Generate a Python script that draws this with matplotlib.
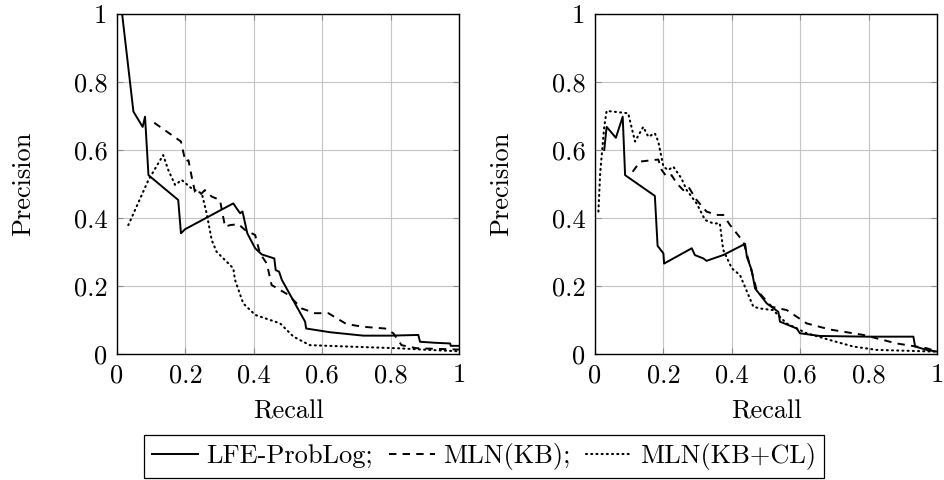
import matplotlib
matplotlib.use("Agg")
import matplotlib.pyplot as plt
from matplotlib.ticker import FixedLocator, FuncFormatter

plt.rcParams['font.family'] = 'serif'
plt.rcParams['font.serif'] = ['cmr10', 'DejaVu Serif']
plt.rcParams['mathtext.fontset'] = 'cm'
plt.rcParams['axes.unicode_minus'] = False
plt.rcParams['font.size'] = 19

# left panel
l_lfe_x = [0.01, 0.015, 0.048, 0.075, 0.082, 0.092, 0.179, 0.187, 0.199, 0.34, 0.35, 0.36, 0.367, 0.381,
           0.404, 0.423, 0.46, 0.464, 0.474, 0.482, 0.55, 0.553, 0.623, 0.72, 0.798, 0.881, 0.886, 0.93,
           0.974, 0.976, 1.0]
l_lfe_y = [1.0, 1.0, 0.713, 0.668, 0.698, 0.526, 0.453, 0.355, 0.367, 0.443, 0.428, 0.414, 0.419, 0.355,
           0.311, 0.293, 0.281, 0.247, 0.242, 0.218, 0.095, 0.075, 0.064, 0.054, 0.054, 0.056, 0.036, 0.033,
           0.031, 0.024, 0.024]
l_kb_x = [0.109, 0.187, 0.2, 0.209, 0.218, 0.228, 0.243, 0.257, 0.277, 0.301, 0.316, 0.33, 0.355, 0.374,
          0.404, 0.418, 0.438, 0.452, 0.501, 0.54, 0.579, 0.618, 0.671, 0.72, 0.784, 0.808, 0.832, 0.876, 1.0]
l_kb_y = [0.68, 0.625, 0.566, 0.57, 0.523, 0.477, 0.468, 0.482, 0.463, 0.453, 0.374, 0.379, 0.382, 0.365,
          0.35, 0.296, 0.266, 0.203, 0.174, 0.134, 0.12, 0.12, 0.088, 0.08, 0.075, 0.061, 0.026, 0.017, 0.013]
l_cl_x = [0.033, 0.092, 0.135, 0.15, 0.17, 0.189, 0.218, 0.248, 0.262, 0.277, 0.291, 0.316, 0.34, 0.345,
          0.369, 0.404, 0.477, 0.516, 0.564, 0.70, 0.818, 0.915, 1.0]
l_cl_y = [0.379, 0.512, 0.585, 0.541, 0.497, 0.512, 0.487, 0.472, 0.414, 0.335, 0.301, 0.276, 0.252, 0.218,
          0.149, 0.115, 0.09, 0.051, 0.026, 0.021, 0.017, 0.012, 0.008]

# right panel
r_lfe_x = [0.027, 0.034, 0.061, 0.081, 0.088, 0.175, 0.183, 0.2, 0.202, 0.283, 0.292, 0.317, 0.326, 0.375,
           0.439, 0.444, 0.458, 0.468, 0.502, 0.536, 0.541, 0.59, 0.599, 0.658, 0.794, 0.931, 0.936, 0.97, 1.0]
r_lfe_y = [0.6, 0.668, 0.636, 0.698, 0.526, 0.465, 0.318, 0.296, 0.266, 0.311, 0.291, 0.281, 0.274, 0.291,
           0.324, 0.286, 0.247, 0.193, 0.149, 0.124, 0.095, 0.075, 0.061, 0.053, 0.051, 0.051, 0.022, 0.012, 0.007]
r_kb_x = [0.11, 0.132, 0.185, 0.195, 0.21, 0.224, 0.239, 0.258, 0.273, 0.297, 0.326, 0.356, 0.375, 0.395,
          0.434, 0.473, 0.517, 0.561, 0.619, 0.687, 0.785, 0.882, 0.97, 1.0]
r_kb_y = [0.536, 0.566, 0.572, 0.541, 0.521, 0.526, 0.502, 0.482, 0.492, 0.453, 0.419, 0.409, 0.409, 0.379,
          0.33, 0.188, 0.139, 0.129, 0.09, 0.072, 0.056, 0.031, 0.017, 0.007]
r_cl_x = [0.01, 0.015, 0.027, 0.034, 0.097, 0.117, 0.141, 0.156, 0.175, 0.185, 0.2, 0.214, 0.229, 0.253,
          0.268, 0.297, 0.322, 0.346, 0.365, 0.375, 0.4, 0.424, 0.463, 0.482, 0.521, 0.56, 0.619, 0.687,
          0.755, 0.824, 1.0]
r_cl_y = [0.419, 0.531, 0.668, 0.715, 0.708, 0.625, 0.668, 0.639, 0.649, 0.625, 0.551, 0.541, 0.551, 0.516,
          0.482, 0.443, 0.394, 0.384, 0.384, 0.306, 0.252, 0.232, 0.139, 0.134, 0.129, 0.09, 0.061, 0.041,
          0.022, 0.012, 0.007]

ticks = [0, 0.2, 0.4, 0.6, 0.8, 1]
labels = ['LFE-ProbLog;', 'MLN(KB);', 'MLN(KB+CL)']

fig = plt.figure(figsize=(9.44, 4.8), dpi=100)
ax1 = fig.add_axes([117/944, 1-354/480, 342/944, 340/480])
ax2 = fig.add_axes([595/944, 1-354/480, 342/944, 340/480])

fmt = FuncFormatter(lambda v, p: '0' if v == 0 else ('1' if v == 1 else f'{v:.1f}'))

panels = [(ax1, l_lfe_x, l_lfe_y, l_kb_x, l_kb_y, l_cl_x, l_cl_y),
          (ax2, r_lfe_x, r_lfe_y, r_kb_x, r_kb_y, r_cl_x, r_cl_y)]
for ax, ax_, ay, bx, by, cx, cy in panels:
    ax.plot(ax_, ay, color='black', lw=1.4, ls='-')
    ax.plot(bx, by, color='black', lw=1.4, ls=(0, (3.8, 3.2)))
    ax.plot(cx, cy, color='black', lw=1.5, ls=(0, (0.5, 2.0)), dash_capstyle='round')
    ax.set_xlim(0, 1)
    ax.set_ylim(0, 1)
    ax.xaxis.set_major_locator(FixedLocator(ticks))
    ax.yaxis.set_major_locator(FixedLocator(ticks))
    ax.xaxis.set_major_formatter(fmt)
    ax.yaxis.set_major_formatter(fmt)
    ax.grid(True, color='#c4c4c4', lw=0.8)
    ax.set_axisbelow(True)
    ax.tick_params(direction='in', length=4, width=0.8, color='#8c8c8c',
                   top=True, right=True, pad=7)
    for s in ax.spines.values():
        s.set_linewidth(1.0)
        s.set_color('black')
    ax.set_xlabel('Recall')
    ax.set_ylabel('Precision')
    ax.xaxis.set_label_coords(0.5, -0.135)
    ax.yaxis.set_label_coords(-0.24, 0.5)

handles = ax1.get_lines()
fig.legend(handles, labels, loc='lower center', bbox_to_anchor=(484/944, 2/480), ncol=3,
           frameon=True, fancybox=False, edgecolor='black', framealpha=1,
           handlelength=1.75, handletextpad=0.3, columnspacing=0.6, borderpad=0.3,
           borderaxespad=0, fontsize=19)
leg = fig.legends[0]
leg.get_frame().set_linewidth(0.9)

fig.savefig('out.png', dpi=100)
